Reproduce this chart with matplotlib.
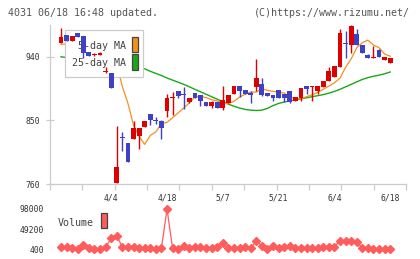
import matplotlib
matplotlib.use('Agg')
import matplotlib.pyplot as plt
from matplotlib.patches import Rectangle
import numpy as np

plt.rcParams['font.family'] = ['DejaVu Sans Mono']

# ---------------- data ----------------
dates = ['3/22', '3/25', '3/26', '3/27', '3/28', '3/29', '4/1', '4/2', '4/3', '4/4',
         '4/5', '4/8', '4/9', '4/10', '4/11', '4/12', '4/15', '4/16', '4/17', '4/18',
         '4/19', '4/22', '4/23', '4/24', '4/25', '4/26', '4/30', '5/1', '5/2', '5/7',
         '5/8', '5/9', '5/10', '5/13', '5/14', '5/15', '5/16', '5/17', '5/20', '5/21',
         '5/22', '5/23', '5/24', '5/27', '5/28', '5/29', '5/30', '5/31', '6/3', '6/4',
         '6/5', '6/6', '6/7', '6/10', '6/11', '6/12', '6/13', '6/14', '6/17', '6/18']
label_dates = ['4/4', '4/18', '5/7', '5/21', '6/4', '6/18']

open_ = [959, 971, 963, 973, 969.5, 947, 943, 943.5, 919, 917,
         761, 827, 818.7, 823.4, 827.7, 840, 858.5, 851, 848.6, 864,
         881, 891, 888, 876.6, 888.4, 885.5, 876, 870, 876, 867.5,
         875, 887, 898.3, 893.6, 889.3, 897, 902, 888.8, 886.5, 892.6,
         887, 891.6, 877.4, 882.3, 898.3, 897.5, 892, 897, 906, 911,
         925.8, 959.5, 956.6, 972.3, 956.6, 942.4, 939, 949.5, 935.3, 931.5]
high = [981, 971, 969, 973, 969.5, 947, 946, 947, 926, 917,
        841.5, 834, 818.7, 848.6, 839.6, 848.6, 858.5, 854.7, 851, 887,
        890, 891, 897.3, 882.3, 888.4, 885.5, 876, 877, 876, 898.3,
        886.5, 898.3, 898.3, 893.6, 891, 936.3, 910.7, 888.8, 886.5, 892.6,
        887, 891.6, 883, 896.5, 898.3, 898.3, 898.3, 905.5, 926, 927,
        979.4, 976.5, 985, 979, 956.6, 944, 955, 951, 940, 938.6]
low = [959, 963, 963, 968.5, 939, 941.5, 941.5, 942, 917, 896,
       761, 806, 790.7, 823.4, 809.5, 840, 844, 845.3, 824, 854.7,
       857, 882, 866.6, 875, 881.7, 870.3, 869.7, 868, 867.5, 864.2,
       875, 887, 883, 887, 875, 891.6, 884, 884.6, 878, 881,
       875.6, 874, 877.4, 877.4, 888, 878, 887, 897, 906, 911,
       925.8, 938, 944.8, 956.6, 944.8, 939, 939, 940, 935.3, 931.5]
close = [968.4, 963, 969, 968.5, 945, 941.5, 944, 944.5, 920, 896,
         784.5, 825.5, 790.7, 839.6, 839.6, 848.6, 850, 850, 839.6, 881,
         883, 884.6, 886, 882.3, 881.7, 877.4, 869.7, 876, 867.5, 878.4,
         886.5, 898.3, 891.6, 887, 886.5, 910.7, 886.5, 884.6, 881, 881,
         881.7, 876, 883, 896.5, 894, 898.3, 898.3, 905.5, 920, 927,
         974, 958.8, 984, 956.6, 944.8, 939, 940, 940, 940, 938.6]

ma5 = [957.6, 958, 961, 964, 966, 962.8, 957.4, 953.6, 948.7, 939,
       929.2, 897.8, 874.1, 843.3, 827.3, 816, 828.8, 833.7, 845.6, 847.2,
       853.8, 860.7, 867.6, 874.8, 883.4, 883.5, 882.4, 879.4, 877.4, 874.5,
       873.8, 877, 883, 887, 890, 890, 894.8, 892.5, 891.1, 889.9,
       888.8, 883, 880.9, 880.5, 883.6, 886.2, 889.6, 894, 898.5, 903.2,
       909.8, 925, 937, 952.8, 960, 963.6, 956.6, 952.9, 944, 940.8]
ma25 = [940, 939, 938, 937, 936, 935, 934, 933, 932, 931,
        930, 929, 927.5, 926, 924.5, 923, 919.5, 916.5, 913.5, 910,
        907, 904, 901, 897.5, 894, 890.5, 887, 883.5, 880, 876.5,
        873, 870, 867.5, 865.5, 864.5, 864, 864.5, 867, 871, 874,
        876, 877.5, 879, 880.5, 882, 883.5, 885, 886.5, 888.5, 891,
        894, 897.5, 901, 904.5, 908, 910.5, 912.5, 914, 916, 918.5]

volume = [5200, 5200, 2800, 1500, 10900, 2800, 1200, 1200, 5200, 27000,
          33500, 5200, 5200, 5200, 2800, 2800, 2800, 1200, 2800, 98000,
          2800, 1200, 8500, 2800, 5200, 5200, 2800, 2800, 6800, 14900,
          2800, 2800, 2800, 5200, 2800, 20600, 9300, 1200, 8500, 2800,
          5200, 8500, 2800, 2800, 2800, 2800, 2800, 6800, 6800, 6800,
          20600, 20600, 20600, 17300, 4400, 2800, 1200, 1200, 1200, 1200]

price_ticks = [760, 850, 940]
vol_ticks = [400, 49200, 98000]

# ---------------- layout helpers ----------------
W, H = 420, 259
fig = plt.figure(figsize=(W / 100, H / 100), dpi=100)
fig.patch.set_facecolor('white')


def rect(x0, y0, x1, y1):
    return [x0 / W, 1 - y1 / H, (x1 - x0) / W, (y1 - y0) / H]


AX_L, AX_T, AX_R, AX_B = 50, 25, 406, 184
ax = fig.add_axes(rect(AX_L, AX_T, AX_R, AX_B))
vax = fig.add_axes(rect(AX_L, 209, AX_R, 249.3))


def axc(px, py):
    return ((px - AX_L) / (AX_R - AX_L), (AX_B - py) / (AX_B - AX_T))


RED = '#dc0000'
BLUE = '#4040c4'
ORANGE = '#f5901e'
GREEN = '#1aa81a'
VOLC = '#ff5c5c'
GRID = '#cccccc'

n = len(close)
xs = np.arange(n)
XL = (-1.97, 61.83)

# ---------------- main price panel ----------------
ax.set_xlim(*XL)
ax.set_ylim(760, 985)

ax.plot(xs, ma25, color=GREEN, lw=1.0, zorder=2)
ax.plot(xs, ma5, color=ORANGE, lw=0.9, zorder=2)

for i in range(n):
    o, h, l, c = open_[i], high[i], low[i], close[i]
    col = RED if c >= o else BLUE
    ax.vlines(xs[i], l, h, color=col, lw=1.0, zorder=4)
    bot = min(o, c)
    ht = abs(c - o)
    if ht < 1.5:
        bot = (o + c) / 2 - 0.75
        ht = 1.5
    ax.bar(xs[i], ht, bottom=bot, width=0.86, color=col, lw=0, zorder=4)

for s in ['top', 'right']:
    ax.spines[s].set_visible(False)
for s in ['left', 'bottom']:
    ax.spines[s].set_color(GRID)
    ax.spines[s].set_linewidth(0.9)

ax.set_xticks(np.linspace(XL[0], XL[1], 12))
ax.tick_params(axis='x', direction='out', length=4.5, width=0.9, color=GRID,
               labelbottom=False)
ax.set_yticks(price_ticks)
ax.set_yticklabels([str(t) for t in price_ticks])
ax.tick_params(axis='y', direction='inout', length=5.8, width=0.9, color=GRID,
               labelsize=5.8, labelcolor='#333333', pad=4.5)

# legend (drawn above lines but beneath candles)
lx0, ly0 = axc(65, 77)
lx1, ly1 = axc(143, 30)
ax.add_patch(Rectangle((lx0, ly0), lx1 - lx0, ly1 - ly0, transform=ax.transAxes,
                       facecolor='white', edgecolor='#cccccc', lw=0.9, zorder=3))
for label, col, ty, r0, r1 in [('5-day MA', ORANGE, 46, 37, 52.3),
                               ('25-day MA', GREEN, 63, 54, 69.7)]:
    tx, tyy = axc(125.5, ty)
    ax.text(tx, tyy, label, transform=ax.transAxes, ha='right', va='center',
            fontsize=7.2, color='#444444', zorder=3.5)
    hx0, hy0 = axc(131.5, r1)
    hx1, hy1 = axc(137.5, r0)
    ax.add_patch(Rectangle((hx0, hy0), hx1 - hx0, hy1 - hy0, transform=ax.transAxes,
                           facecolor=col, edgecolor='#444444', lw=0.9, zorder=3.5))

# ---------------- volume panel ----------------
vax.set_xlim(*XL)
vax.set_ylim(400, 98000)
vax.plot(xs, volume, color=VOLC, lw=0.9, marker='D', ms=4.2, mec=VOLC, mfc=VOLC,
         clip_on=False)
for s in vax.spines.values():
    s.set_visible(False)
vax.set_xticks([])
vax.set_yticks(vol_ticks)
vax.set_yticklabels([str(t) for t in vol_ticks])
vax.tick_params(axis='y', length=0, labelsize=5.8, labelcolor='#333333', pad=4.3)
vax.patch.set_alpha(0)

fig.text(58 / W, 1 - 222.5 / H, 'Volume', ha='left', va='center', fontsize=7.2,
         color='#444444')
fig.patches.append(Rectangle((101 / W, 1 - 228 / H), 6.5 / W, 15 / H,
                             transform=fig.transFigure, facecolor=VOLC,
                             edgecolor='#444444', lw=0.9))

# date labels between panels
for d in label_dates:
    i = dates.index(d)
    xd = ax.transData.transform((xs[i], 800))[0] / W
    fig.text(xd, 1 - 198 / H, d, ha='center', va='center', fontsize=5.8,
             color='#333333')

# header texts
fig.text(8 / W, 1 - 12.5 / H, '4031 06/18 16:48 updated.', ha='left', va='center',
         fontsize=7.2, color='#555555')
fig.text(410 / W, 1 - 12.5 / H, '(C)https://www.rizumu.net/', ha='right',
         va='center', fontsize=7.2, color='#555555')

fig.savefig('out.png', dpi=100, facecolor='white')
